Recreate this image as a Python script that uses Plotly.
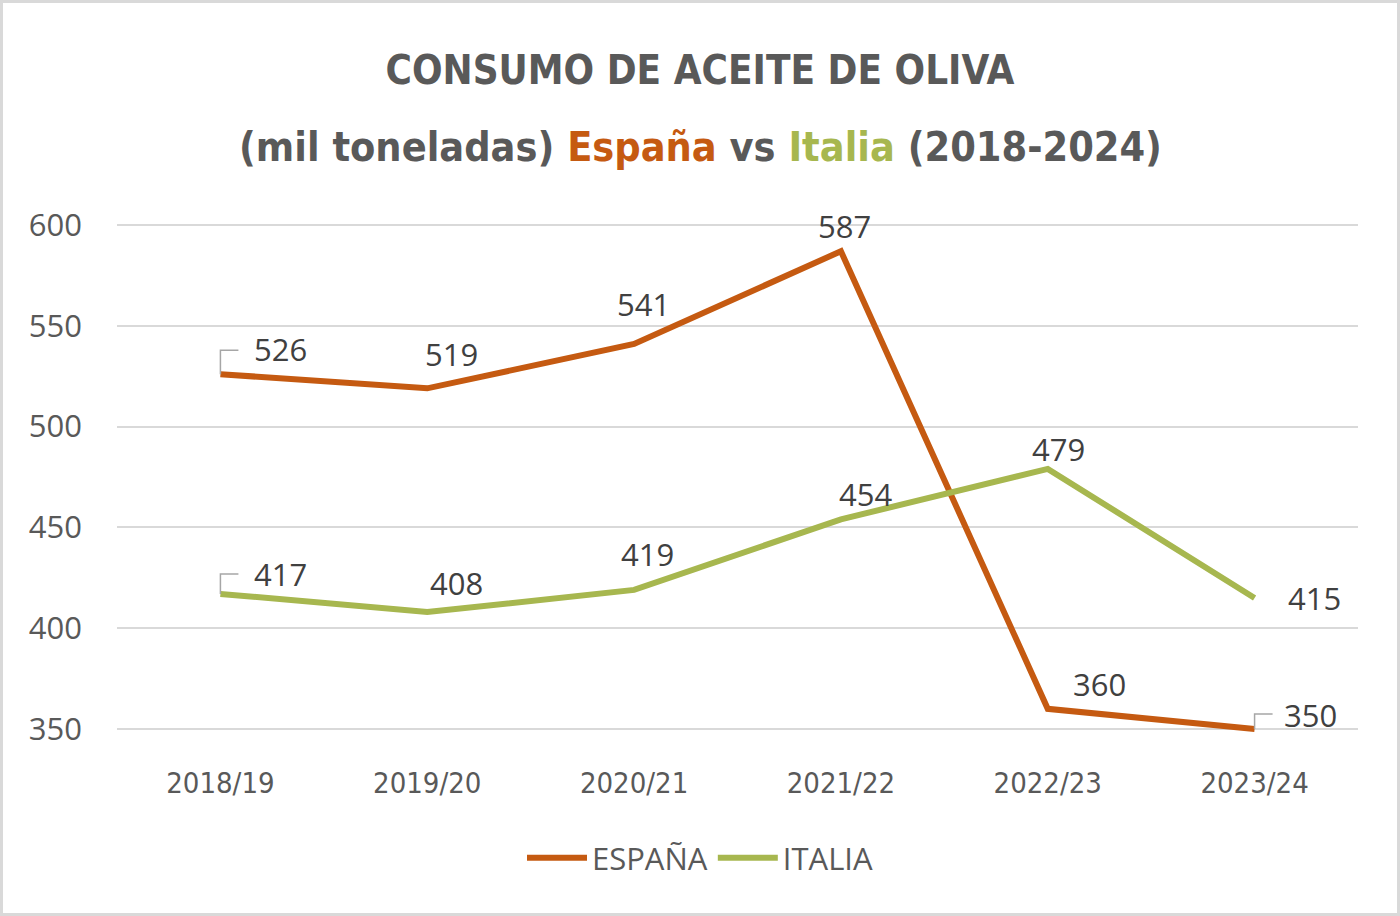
import plotly.graph_objects as go

# datos (mil toneladas)
campanas = ["2018/19", "2019/20", "2020/21", "2021/22", "2022/23", "2023/24"]
espana = [526, 519, 541, 587, 360, 350]
italia = [417, 408, 419, 454, 479, 415]
y_ticks = [350, 400, 450, 500, 550, 600]

NARANJA = "#C55A11"
VERDE = "#A7B74F"
GRIS = "#595959"
CONDENSADA = "DejaVu Sans Condensed, DejaVu Sans"

# desplazamiento de las etiquetas (px) respecto al punto
off_es = [(60, -25), (24, -34), (9, -40), (4, -25), (52, -25), (56, -14)]
off_it = [(60, -20), (29, -29), (13, -36), (25, -25), (11, -20), (60, 0)]

fig = go.Figure()
fig.add_trace(go.Scatter(x=campanas, y=espana, mode="lines", name="ESPAÑA",
                         line=dict(color=NARANJA, width=6)))
fig.add_trace(go.Scatter(x=campanas, y=italia, mode="lines", name="ITALIA",
                         line=dict(color=VERDE, width=6)))

def etiquetas(valores, offsets):
    for i, (v, (dx, dy)) in enumerate(zip(valores, offsets)):
        fig.add_annotation(x=campanas[i], y=v, text=str(v), showarrow=False,
                           xshift=dx, yshift=-dy,
                           font=dict(family="Open Sans", size=31, color="#404040"))

def guias(valores, indices, alto):
    for i in indices:
        fig.add_shape(type="path", xref="x", yref="y",
                      xsizemode="pixel", ysizemode="pixel",
                      xanchor=i, yanchor=valores[i],
                      path=f"M 0,0 L 0,{alto} L 18,{alto}",
                      line=dict(color="#A6A6A6", width=1.5))

etiquetas(espana, off_es)
etiquetas(italia, off_it)
guias(espana, [0], 24)
guias(espana, [5], 15)
guias(italia, [0], 20)

# borde gris claro de toda la imagen
L, R, T, B = 117, 42, 221, 183
pw, ph = 1400 - L - R, 916 - T - B
fig.add_shape(type="rect", xref="paper", yref="paper",
              x0=-(L - 1.5) / pw, x1=1 + (R - 1.5) / pw,
              y0=-(B - 1.5) / ph, y1=1 + (T - 1.5) / ph,
              line=dict(color="#D9D9D9", width=3))

# segunda línea del título
fig.add_annotation(
    xref="paper", yref="paper", x=(700 - L) / pw, y=1 + (T - 147) / ph,
    xanchor="center", yanchor="middle", showarrow=False,
    text=(f"(mil toneladas) <span style='color:{NARANJA}'>España</span> vs "
          f"<span style='color:{VERDE}'>Italia</span> (2018-2024)"),
    font=dict(family=CONDENSADA, size=41, color=GRIS, weight="bold"),
)

fig.update_layout(
    width=1400, height=916,
    paper_bgcolor="white", plot_bgcolor="white",
    margin=dict(l=L, r=R, t=T, b=B),
    title=dict(
        text="CONSUMO DE ACEITE DE OLIVA",
        x=0.5, xref="container", xanchor="center",
        y=1 - 70 / 916, yref="container", yanchor="middle",
        font=dict(family=CONDENSADA, size=40, color=GRIS, weight="bold"),
    ),
    xaxis=dict(type="category", range=[-0.5, 5.5], showgrid=False, showline=False,
               ticks="", ticklabelstandoff=30, automargin=False,
               tickfont=dict(family=CONDENSADA, size=29, color=GRIS)),
    yaxis=dict(range=[348, 602], tickvals=y_ticks, showgrid=True,
               gridcolor="#D9D9D9", gridwidth=2, zeroline=False, showline=False,
               ticks="", ticklabelstandoff=34, automargin=False,
               tickfont=dict(family="Open Sans", size=31, color=GRIS)),
    showlegend=True,
    legend=dict(orientation="h", xref="container", x=0.5, xanchor="center",
                yref="container", y=1 - 858 / 916, yanchor="middle",
                font=dict(family="Open Sans", size=31, color=GRIS),
                itemwidth=60, tracegroupgap=0),
)

fig.write_html("out.html", config={"displayModeBar": False},
               post_script="document.body.style.margin='0';")
